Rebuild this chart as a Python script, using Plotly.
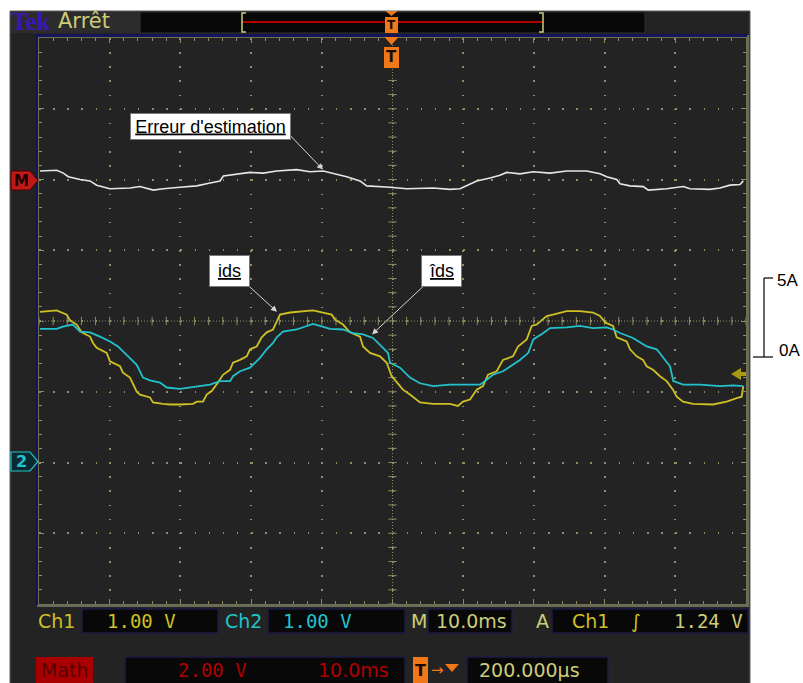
import plotly.graph_objects as go

W, H = 803, 683

# ---------------- data (time in ms, amplitude in screen divisions) ----------------
t_ids = [0.14, 2.50, 3.92, 4.38, 5.33, 6.04, 7.21, 7.64, 8.16, 9.58, 10.04, 11.46, 11.88, 12.87,
         13.82, 14.29, 15.70, 16.12, 17.54, 18.53, 19.94, 21.78, 22.31, 23.20, 23.72, 24.43, 25.32,
         26.02, 27.02, 27.44, 28.43, 29.38, 29.85, 30.79, 31.50, 32.21, 33.10, 33.62, 34.09, 35.50,
         37.34, 38.75, 40.17, 41.40, 41.87, 43.00, 43.99, 45.40, 45.83, 46.82, 48.23, 49.18, 49.89,
         50.59, 51.48, 52.47, 52.90, 53.89, 55.73, 58.13, 59.26, 59.97, 60.96, 61.91, 62.80, 63.51,
         64.74, 65.63, 67.04, 67.75, 68.98, 69.69, 70.40, 71.81, 72.70, 74.64, 76.52, 78.36, 79.35,
         80.06, 81.19, 81.71, 83.12, 83.59, 84.54, 85.43, 85.95, 86.85, 87.84, 88.78, 89.67, 90.20,
         91.09, 92.50, 95.33, 97.27, 98.68, 99.39, 99.62]
ids = [0.13, 0.15, 0.09, 0.01, -0.05, -0.16, -0.22, -0.31, -0.38, -0.45, -0.57, -0.64, -0.73, -0.80,
       -1.00, -1.04, -1.08, -1.15, -1.17, -1.18, -1.18, -1.17, -1.14, -1.14, -1.04, -0.99, -0.87,
       -0.76, -0.69, -0.59, -0.55, -0.50, -0.40, -0.36, -0.23, -0.16, -0.12, 0.00, 0.09, 0.12,
       0.14, 0.15, 0.12, 0.09, 0.02, -0.05, -0.16, -0.22, -0.36, -0.45, -0.50, -0.59, -0.78,
       -0.87, -0.97, -1.04, -1.07, -1.15, -1.17, -1.17, -1.20, -1.14, -1.11, -0.97, -0.92, -0.76,
       -0.71, -0.55, -0.50, -0.36, -0.26, -0.07, -0.05, 0.07, 0.09, 0.14, 0.14, 0.12, 0.07,
       -0.02, -0.07, -0.23, -0.29, -0.40, -0.50, -0.55, -0.64, -0.69, -0.78, -0.85, -0.97, -1.07,
       -1.14, -1.17, -1.18, -1.14, -1.09, -1.07, -0.92]

t_ids_hat = [0.14, 2.50, 3.39, 4.81, 5.80, 7.21, 8.63, 10.04, 11.17, 11.88, 12.87, 13.82, 14.71,
             15.70, 17.12, 18.07, 19.94, 22.31, 24.19, 25.60, 27.02, 27.44, 28.43, 29.85, 31.26,
             32.21, 33.10, 33.62, 34.51, 36.45, 37.86, 38.75, 39.74, 41.16, 43.00, 44.41, 45.83,
             47.24, 48.66, 49.36, 49.65, 51.06, 52.47, 53.89, 55.73, 58.13, 60.49, 62.38, 63.32,
             64.21, 65.63, 67.04, 68.03, 69.21, 69.92, 71.33, 72.28, 74.64, 76.52, 78.36, 80.30,
             81.19, 82.18, 84.02, 85.95, 87.37, 88.30, 89.25, 89.72, 91.13, 93.49, 96.32, 98.20, 99.62]
ids_hat = [-0.11, -0.11, -0.08, -0.05, -0.15, -0.16, -0.22, -0.29, -0.36, -0.43, -0.52, -0.62, -0.80,
           -0.84, -0.87, -0.94, -0.96, -0.93, -0.90, -0.85, -0.85, -0.78, -0.71, -0.66, -0.52,
           -0.40, -0.31, -0.23, -0.15, -0.12, -0.07, -0.04, -0.07, -0.11, -0.12, -0.17, -0.19,
           -0.24, -0.38, -0.45, -0.59, -0.66, -0.80, -0.88, -0.92, -0.90, -0.90, -0.90, -0.83,
           -0.76, -0.71, -0.62, -0.55, -0.45, -0.26, -0.17, -0.10, -0.09, -0.07, -0.10, -0.09,
           -0.12, -0.17, -0.24, -0.36, -0.40, -0.52, -0.64, -0.85, -0.90, -0.90, -0.92, -0.91, -0.92]

t_err = [0.14, 2.50, 3.44, 4.14, 5.80, 7.21, 8.16, 10.04, 12.87, 14.29, 16.17, 17.58, 19.94, 22.31,
         24.19, 25.60, 26.07, 27.96, 29.85, 31.73, 33.62, 36.45, 38.33, 40.21, 42.11, 43.52, 45.40,
         46.35, 49.65, 52.01, 55.77, 58.13, 59.55, 60.49, 61.91, 63.79, 65.20, 66.15, 68.03, 69.92,
         72.28, 74.64, 77.47, 79.35, 80.30, 81.71, 82.18, 83.59, 85.48, 86.18, 88.78, 91.13, 92.08,
         94.91, 96.32, 97.74, 99.15, 99.62]
err = [2.12, 2.13, 2.09, 2.04, 2.00, 1.98, 1.92, 1.87, 1.88, 1.90, 1.85, 1.87, 1.89, 1.91,
       1.95, 1.98, 2.05, 2.07, 2.10, 2.09, 2.12, 2.14, 2.11, 2.12, 2.08, 2.04, 1.98,
       1.91, 1.89, 1.87, 1.88, 1.86, 1.87, 1.91, 1.98, 2.02, 2.06, 2.10, 2.08, 2.11,
       2.09, 2.12, 2.12, 2.08, 2.04, 2.00, 1.94, 1.91, 1.90, 1.85, 1.87, 1.90, 1.87,
       1.86, 1.88, 1.92, 1.93, 1.98]

label_err = "Erreur d'estimation"
label_ids = "ids"
label_ids_hat = "îds"
scale_labels = ["5A", "0A"]

# ---------------- colours ----------------
YEL = "#cfc024"
CYA = "#22c2cc"
WHT = "#e6e6e6"
GRID = "#8e8e62"
KHAKI = "#cccc7a"
ORANGE = "#f07818"
RED = "#b00000"


def px(x):
    return x / W


def py(y):
    return 1 - y / H


fig = go.Figure()

# graticule centre-line tick marks (derived from axis subdivisions)
fig.add_trace(go.Scatter(x=[i * 2 for i in range(51)], y=[0] * 51, mode="markers",
                         marker=dict(symbol="line-ns", size=6, line=dict(color=GRID, width=1)),
                         hoverinfo="skip", showlegend=False))
fig.add_trace(go.Scatter(x=[50] * 41, y=[-4 + i * 0.2 for i in range(41)], mode="markers",
                         marker=dict(symbol="line-ew", size=6, line=dict(color=GRID, width=1)),
                         hoverinfo="skip", showlegend=False))

# waveforms
fig.add_trace(go.Scatter(x=t_err, y=err, mode="lines", line=dict(color=WHT, width=1.6),
                         hoverinfo="skip", showlegend=False))
fig.add_trace(go.Scatter(x=t_ids, y=ids, mode="lines", line=dict(color=YEL, width=1.8),
                         hoverinfo="skip", showlegend=False))
fig.add_trace(go.Scatter(x=t_ids_hat, y=ids_hat, mode="lines", line=dict(color=CYA, width=1.8),
                         hoverinfo="skip", showlegend=False))

shapes = []
ann = []

# scope body
shapes.append(dict(type="rect", xref="paper", yref="paper", x0=px(10), x1=px(750), y0=py(690), y1=py(11),
                   fillcolor="#232323", line=dict(color="#5e5e5e", width=1), layer="below"))
shapes.append(dict(type="rect", xref="paper", yref="paper", x0=px(11), x1=px(140), y0=py(33), y1=py(12),
                   fillcolor="#2c2c2c", line=dict(width=0), layer="below"))
# top status box
shapes.append(dict(type="rect", xref="paper", yref="paper", x0=px(140), x1=px(645), y0=py(33), y1=py(12),
                   fillcolor="#080808", line=dict(color="#303030", width=1), layer="below"))
# navy frame of graticule (top and left edges)
shapes.append(dict(type="line", xref="paper", yref="paper", x0=px(35), x1=px(748), y0=py(35.5), y1=py(35.5),
                   line=dict(color="#14145a", width=3)))
shapes.append(dict(type="line", xref="paper", yref="paper", x0=px(37), x1=px(37), y0=py(606), y1=py(35),
                   line=dict(color="#14145a", width=2)))
# right / bottom grey rim
shapes.append(dict(type="line", xref="paper", yref="paper", x0=px(748), x1=px(748), y0=py(607), y1=py(35),
                   line=dict(color="#6a6a58", width=2)))
shapes.append(dict(type="line", xref="paper", yref="paper", x0=px(37), x1=px(749), y0=py(606), y1=py(606),
                   line=dict(color="#6a6a58", width=2)))
# record-view bracket
shapes.append(dict(type="line", xref="paper", yref="paper", x0=px(242), x1=px(543), y0=py(22), y1=py(22),
                   line=dict(color="#b00000", width=2)))
for xb, d in [(242, 4), (543, -4)]:
    shapes.append(dict(type="path", xref="paper", yref="paper",
                       path=f"M{px(xb + d)},{py(13)} L{px(xb)},{py(13)} L{px(xb)},{py(32)} L{px(xb + d)},{py(32)}",
                       line=dict(color=KHAKI, width=1.5)))

# graticule centre dense dotted lines
shapes.append(dict(type="line", xref="x", yref="y", x0=50, x1=50, y0=-4, y1=4,
                   line=dict(color=GRID, width=1, dash="1px,2px")))
shapes.append(dict(type="line", xref="x", yref="y", x0=0, x1=100, y0=0, y1=0,
                   line=dict(color=GRID, width=1, dash="1px,2px")))


# trigger markers (orange)
def tri_down(xc, ytop, w, h):
    return f"M{px(xc - w / 2)},{py(ytop)} L{px(xc + w / 2)},{py(ytop)} L{px(xc)},{py(ytop + h)} Z"


shapes.append(dict(type="path", xref="paper", yref="paper", path=tri_down(391.5, 37, 14, 8),
                   fillcolor=ORANGE, line=dict(width=0)))
shapes.append(dict(type="rect", xref="paper", yref="paper", x0=px(384), x1=px(399), y0=py(68), y1=py(47),
                   fillcolor=ORANGE, line=dict(width=0)))
ann.append(dict(xref="paper", yref="paper", x=px(391.5), y=py(57.5), text="<b>T</b>", showarrow=False,
                xanchor="center", yanchor="middle",
                font=dict(family="DejaVu Sans", size=15, color="#1a0a00")))
shapes.append(dict(type="path", xref="paper", yref="paper", path=tri_down(391.5, 11, 12, 5),
                   fillcolor=ORANGE, line=dict(width=0)))
shapes.append(dict(type="rect", xref="paper", yref="paper", x0=px(385), x1=px(398), y0=py(33), y1=py(17),
                   fillcolor=ORANGE, line=dict(width=0)))
ann.append(dict(xref="paper", yref="paper", x=px(391.5), y=py(25), text="<b>T</b>", showarrow=False,
                xanchor="center", yanchor="middle",
                font=dict(family="DejaVu Sans", size=12, color="#1a0a00")))


# left markers: M (math) and 2 (channel 2)
def pent(y0, y1):
    ym = (y0 + y1) / 2
    return (f"M{px(11)},{py(y0)} L{px(30)},{py(y0)} L{px(38)},{py(ym)} "
            f"L{px(30)},{py(y1)} L{px(11)},{py(y1)} Z")


shapes.append(dict(type="path", xref="paper", yref="paper", path=pent(171, 190),
                   fillcolor="#c01818", line=dict(color="#500000", width=1)))
ann.append(dict(xref="paper", yref="paper", x=px(21), y=py(180.5), text="<b>M</b>", showarrow=False,
                xanchor="center", yanchor="middle",
                font=dict(family="DejaVu Sans", size=15, color="#200000")))
shapes.append(dict(type="path", xref="paper", yref="paper", path=pent(452, 471),
                   fillcolor="#0b2a30", line=dict(color=CYA, width=1.2)))
ann.append(dict(xref="paper", yref="paper", x=px(21), y=py(461.5), text="<b>2</b>", showarrow=False,
                xanchor="center", yanchor="middle",
                font=dict(family="DejaVu Sans", size=16, color=CYA)))

# right trigger level marker
shapes.append(dict(type="path", xref="paper", yref="paper",
                   path=f"M{px(731)},{py(374)} L{px(741)},{py(368)} L{px(741)},{py(380)} Z",
                   fillcolor="#a89a12", line=dict(width=0)))
shapes.append(dict(type="rect", xref="paper", yref="paper", x0=px(740), x1=px(746), y0=py(376), y1=py(372),
                   fillcolor="#a89a12", line=dict(width=0)))


# bottom readout boxes
def box(x0, x1, y0, y1):
    shapes.append(dict(type="rect", xref="paper", yref="paper", x0=px(x0), x1=px(x1), y0=py(y1), y1=py(y0),
                       fillcolor="#080808", line=dict(color="#1c1c44", width=1.5), layer="below"))


box(82, 218, 609, 633)
box(268, 405, 609, 633)
box(428, 512, 609, 633)
box(552, 748, 609, 633)
box(125, 405, 657, 690)
box(467, 608, 657, 690)
shapes.append(dict(type="rect", xref="paper", yref="paper", x0=px(36), x1=px(93), y0=py(683), y1=py(657),
                   fillcolor="#a80000", line=dict(width=0)))
shapes.append(dict(type="rect", xref="paper", yref="paper", x0=px(413), x1=px(428), y0=py(683), y1=py(657),
                   fillcolor=ORANGE, line=dict(width=0)))
shapes.append(dict(type="path", xref="paper", yref="paper", path=tri_down(452, 664, 14, 8),
                   fillcolor=ORANGE, line=dict(width=0)))


def txt(x, y, s, color, size=19, anchor="left", family="DejaVu Sans"):
    ann.append(dict(xref="paper", yref="paper", x=px(x), y=py(y), text=s, showarrow=False,
                    xanchor=anchor, yanchor="middle", font=dict(family=family, size=size, color=color)))


txt(9, 21, "<b>Tek</b>", "#3a16b8", size=25, family="Liberation Serif")
txt(56, 21, "Arrêt", KHAKI, size=21)

txt(36, 621, "Ch1", YEL)
txt(141, 621, "1.00 V", YEL, anchor="center", family="DejaVu Sans Mono")
txt(223, 621, "Ch2", CYA)
txt(317, 621, "1.00 V", CYA, anchor="center", family="DejaVu Sans Mono")
txt(409, 621, "M", KHAKI)
txt(471, 621, "10.0ms", KHAKI, anchor="center")
txt(542, 621, "A", KHAKI, anchor="center")
txt(590, 621, "Ch1", YEL, anchor="center")
txt(636, 621, "∫", YEL, anchor="center")
txt(708, 621, "1.24 V", KHAKI, anchor="center", family="DejaVu Sans Mono")

txt(64.5, 670, "Math", "#5a0000", anchor="center")
txt(212, 670, "2.00 V", RED, anchor="center", family="DejaVu Sans Mono")
txt(353, 670, "10.0ms", RED, anchor="center")
txt(420.5, 670, "<b>T</b>", "#1a0a00", size=16, anchor="center")
txt(429, 670, "→", ORANGE, size=15)
txt(529, 670, "200.000µs", KHAKI, anchor="center")

# right-hand current scale bar (outside the screen)
for (x0, y0, x1, y1) in [(764, 278, 764, 357), (764, 278, 773, 278), (753, 357, 773, 357)]:
    shapes.append(dict(type="line", xref="paper", yref="paper", x0=px(x0), x1=px(x1), y0=py(y0), y1=py(y1),
                       line=dict(color="black", width=1.2)))
txt(775, 281, scale_labels[0], "black", size=17, family="Liberation Sans")
txt(777, 350, scale_labels[1], "black", size=17, family="Liberation Sans")


# labelled callouts
def callout(xc, yc, w, h, text):
    ann.append(dict(xref="paper", yref="paper", x=px(xc), y=py(yc), text=f"<u>{text}</u>", showarrow=False,
                    xanchor="center", yanchor="middle", width=w, height=h, bgcolor="white",
                    bordercolor="#7a7a7a", borderwidth=1, borderpad=1,
                    font=dict(family="Liberation Sans", size=18, color="black")))


def arrow(tx, ty, hx, hy):
    ann.append(dict(xref="x", yref="y", axref="x", ayref="y", x=hx, y=hy, ax=tx, ay=ty, text="",
                    showarrow=True, arrowhead=2, arrowsize=1.2, arrowwidth=1, arrowcolor="#d6d6d6",
                    standoff=0, startstandoff=0))


arrow(35.36, 2.64, 40.17, 2.14)
arrow(28.85, 0.57, 33.66, 0.13)
arrow(54.88, 0.54, 47.10, -0.19)
callout(210.5, 126.5, 157, 23, label_err)
callout(229.5, 270.5, 37, 28, label_ids)
callout(441.5, 271, 37, 28, label_ids_hat)

axis_common = dict(showticklabels=False, zeroline=False, showgrid=True, gridcolor=GRID, gridwidth=1.5,
                   ticks="inside", ticklen=5, tickcolor=GRID, tickwidth=1,
                   showline=True, linecolor="#707052", linewidth=1, mirror="ticks", fixedrange=True)

fig.update_layout(
    width=W, height=H, margin=dict(l=0, r=0, t=0, b=0),
    paper_bgcolor="white", plot_bgcolor="#080808", showlegend=False,
    xaxis=dict(range=[0, 100], domain=[px(39), px(746)], dtick=10, tick0=0, griddash="1.5px,12.64px",
               minor=dict(dtick=2, ticks="inside", ticklen=3, tickcolor=GRID, showgrid=False), **axis_common),
    yaxis=dict(range=[-4, 4], domain=[py(604), py(38)], dtick=1, tick0=0, griddash="1.5px,12.64px",
               minor=dict(dtick=0.2, ticks="inside", ticklen=3, tickcolor=GRID, showgrid=False), **axis_common),
    shapes=shapes, annotations=ann,
)

fig.write_html("out.html", config={"displayModeBar": False},
               post_script="document.body.style.margin='0';document.body.style.padding='0';"
                           "document.body.style.overflow='hidden';")
